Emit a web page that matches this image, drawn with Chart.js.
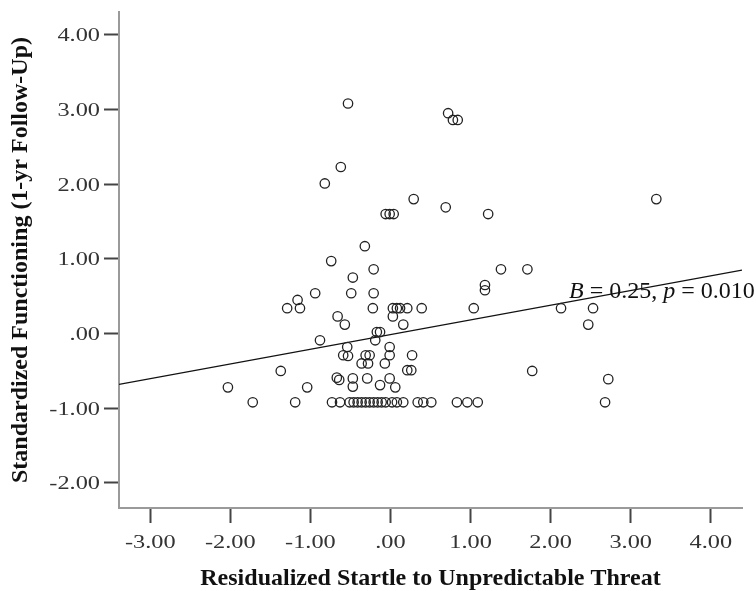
<!DOCTYPE html>
<html>
<head>
<meta charset="utf-8">
<script src="https://cdn.jsdelivr.net/npm/chart.js@4"></script>
<style>
  html, body { margin: 0; padding: 0; background: #fff; }
  canvas { display: block; }
</style>
</head>
<body>
<canvas id="myChart" width="756" height="591"></canvas>
<script>
// startle residual (x) vs standardized functioning at follow-up (y)
const startleX = [
  -0.53, 0.72, 0.78, 0.84, -0.62, -0.82, 3.32, 0.29, 0.69, -0.06,
  -0.01, 0.04, 1.22, -0.32, -0.74, -0.21, -0.47, 1.38, 1.71, 1.18,
  1.18, -0.94, -0.49, -0.21, -1.16, -1.29, -1.13, -0.22, 0.03, 0.08,
  0.12, 0.21, 0.39, 1.04, 2.13, 2.53, -0.66, -0.57, 0.03, 0.16,
  2.47, -0.17, -0.13, -0.88, -0.19, -0.54, -0.01, -0.59, -0.53, -0.31,
  -0.26, -0.01, 0.27, -0.36, -0.28, -0.07, -1.37, 1.77, 0.21, 0.26,
  -0.67, -0.64, -0.47, -0.47, -0.29, -0.13, -0.01, 0.06, -2.03, -1.04,
  2.72, -1.72, -1.19, 2.68,
  -0.73, -0.63, -0.51, -0.46, -0.41, -0.36, -0.31, -0.26, -0.21, -0.16,
  -0.11, -0.06, 0.02, 0.08, 0.16, 0.34, 0.41, 0.51, 0.83, 0.96, 1.09
];
const functioningY = [
  3.08, 2.95, 2.86, 2.86, 2.23, 2.01, 1.80, 1.80, 1.69, 1.60,
  1.60, 1.60, 1.60, 1.17, 0.97, 0.86, 0.75, 0.86, 0.86, 0.65,
  0.58, 0.54, 0.54, 0.54, 0.45, 0.34, 0.34, 0.34, 0.34, 0.34,
  0.34, 0.34, 0.34, 0.34, 0.34, 0.34, 0.23, 0.12, 0.23, 0.12,
  0.12, 0.02, 0.02, -0.09, -0.09, -0.18, -0.18, -0.29, -0.30, -0.29,
  -0.29, -0.29, -0.29, -0.40, -0.40, -0.40, -0.50, -0.50, -0.49, -0.49,
  -0.59, -0.62, -0.60, -0.71, -0.60, -0.69, -0.60, -0.72, -0.72, -0.72,
  -0.61, -0.92, -0.92, -0.92,
  -0.92, -0.92, -0.92, -0.92, -0.92, -0.92, -0.92, -0.92, -0.92, -0.92,
  -0.92, -0.92, -0.92, -0.92, -0.92, -0.92, -0.92, -0.92, -0.92, -0.92, -0.92
];

// fit line ends, at the axis edges
const fitX = [-3.39, 4.39];
const fitY = [-0.68, 0.85];

const xRange = [-3.39, 4.39];
const yRange = [-2.335, 4.305];

const noteParts = [["B", true], [" = 0.25, ", false], ["p", true], [" = 0.010", false]];
const noteAt = [2.23, 0.47];

const serif = '"Liberation Serif", "Times New Roman", serif';

const fmtTick = (v) => (v === 0 ? ".00" : v.toFixed(2));

// SPSS style labels are a bit wider than Times, so stretch them
const tickLabels = {
  id: "tickLabels",
  afterDraw(chart) {
    const { ctx, scales: { x, y } } = chart;
    ctx.save();
    ctx.fillStyle = "#333";
    ctx.font = "19px " + serif;
    ctx.textBaseline = "alphabetic";
    x.ticks.forEach((t) => {
      ctx.save();
      ctx.translate(x.getPixelForValue(t.value), 548);
      ctx.scale(1.28, 1);
      ctx.textAlign = "center";
      ctx.fillText(fmtTick(t.value), 0, 0);
      ctx.restore();
    });
    y.ticks.forEach((t) => {
      ctx.save();
      ctx.translate(100, y.getPixelForValue(t.value) + 6.5);
      ctx.scale(1.28, 1);
      ctx.textAlign = "right";
      ctx.fillText(fmtTick(t.value), 0, 0);
      ctx.restore();
    });
    ctx.restore();
  }
};

const fitNote = {
  id: "fitNote",
  afterDatasetsDraw(chart) {
    const { ctx, scales: { x, y } } = chart;
    let px = x.getPixelForValue(noteAt[0]);
    const py = y.getPixelForValue(noteAt[1]);
    ctx.save();
    ctx.fillStyle = "#111";
    ctx.textBaseline = "alphabetic";
    ctx.textAlign = "left";
    noteParts.forEach(([txt, italic]) => {
      ctx.font = (italic ? "italic " : "") + "24px " + serif;
      ctx.fillText(txt, px, py);
      px += ctx.measureText(txt).width;
    });
    ctx.restore();
  }
};

const axisGrid = {
  display: true,
  drawOnChartArea: false,
  drawTicks: true,
  tickLength: 15,
  tickWidth: 2,
  tickColor: "#444"
};
const axisBorder = { display: true, color: "#9a9a9a", width: 2 };

const ctx = document.getElementById("myChart").getContext("2d");
new Chart(ctx, {
  type: "scatter",
  data: {
    datasets: [
      {
        label: "cases",
        data: startleX.map((v, i) => ({ x: v, y: functioningY[i] })),
        pointStyle: "circle",
        pointRadius: 4.7,
        pointBorderWidth: 1.3,
        pointBorderColor: "#222",
        pointBackgroundColor: "rgba(0,0,0,0)"
      },
      {
        type: "line",
        label: "fit",
        data: fitX.map((v, i) => ({ x: v, y: fitY[i] })),
        borderColor: "#111",
        borderWidth: 1.3,
        pointRadius: 0,
        fill: false
      }
    ]
  },
  options: {
    responsive: false,
    animation: false,
    devicePixelRatio: 1,
    layout: { padding: { top: 12, right: 14, left: 0, bottom: 0 } },
    plugins: {
      legend: { display: false },
      tooltip: { enabled: false }
    },
    scales: {
      x: {
        type: "linear",
        min: xRange[0],
        max: xRange[1],
        ticks: { stepSize: 1, includeBounds: false, display: false },
        grid: axisGrid,
        border: axisBorder,
        title: {
          display: true,
          text: "Residualized Startle to Unpredictable Threat",
          color: "#111",
          font: { family: serif, size: 24, weight: "bold", lineHeight: 1 },
          padding: { top: 0, bottom: 0 }
        },
        afterFit: (scale) => { scale.height = 83; }
      },
      y: {
        type: "linear",
        min: yRange[0],
        max: yRange[1],
        ticks: { stepSize: 1, includeBounds: false, display: false },
        grid: axisGrid,
        border: axisBorder,
        title: {
          display: true,
          text: "Standardized Functioning (1-yr Follow-Up)",
          color: "#111",
          font: { family: serif, size: 24, weight: "bold", lineHeight: 1 },
          padding: { top: 9, bottom: 0 }
        },
        afterFit: (scale) => { scale.width = 119; }
      }
    }
  },
  plugins: [tickLabels, fitNote]
});
</script>
</body>
</html>
